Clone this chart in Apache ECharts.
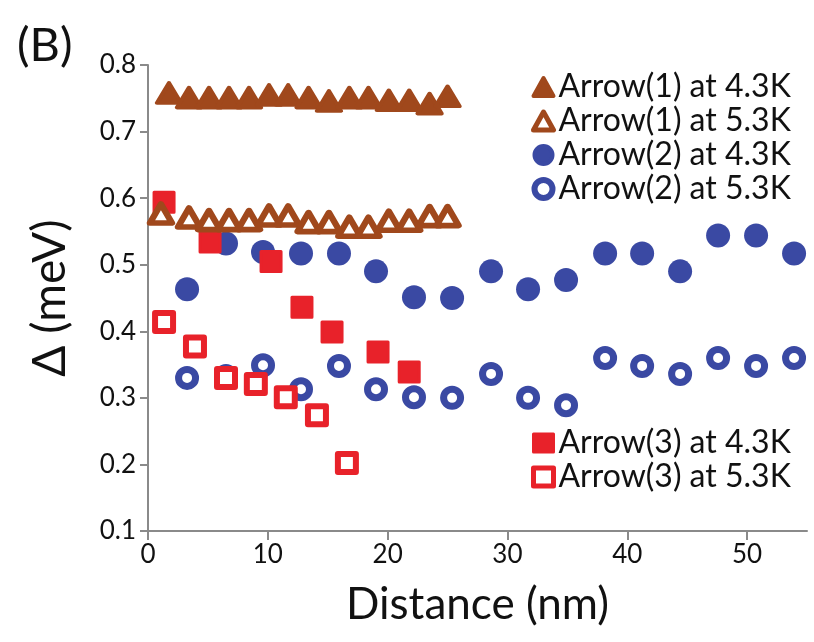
<!DOCTYPE html>
<html>
<head>
<meta charset="utf-8">
<script src="https://cdn.jsdelivr.net/npm/echarts@6/dist/echarts.min.js"></script>
<style>
html,body{margin:0;padding:0;background:#fff;}
#chart{width:814px;height:642px;}
</style>
</head>
<body>
<div id="chart"></div>
<script>
// ---- data ----
const seriesNames = ['Arrow(1) at 4.3K','Arrow(1) at 5.3K','Arrow(2) at 4.3K','Arrow(2) at 5.3K','Arrow(3) at 4.3K','Arrow(3) at 5.3K'];

const a1HotX = [1.75,3.42,5.09,6.76,8.43,10.1,11.7,13.4,15.1,16.8,18.4,20.1,21.8,23.5,25.0];
const a1HotY = [0.758,0.751,0.751,0.751,0.751,0.755,0.755,0.751,0.746,0.751,0.751,0.747,0.747,0.742,0.753];

const a1WarmX = [1.08,3.42,5.09,6.76,8.43,10.1,11.7,13.4,15.1,16.8,18.4,20.1,21.8,23.5,25.0];
const a1WarmY = [0.577,0.571,0.567,0.567,0.567,0.574,0.574,0.564,0.564,0.557,0.557,0.566,0.566,0.573,0.573];

const a2X = [3.26,6.51,9.60,12.77,15.94,19.03,22.2,25.38,28.63,31.72,34.89,38.15,41.24,44.41,47.58,50.75,53.92];
const a2HotY = [0.463,0.532,0.519,0.517,0.517,0.490,0.451,0.450,0.490,0.463,0.477,0.517,0.517,0.490,0.544,0.544,0.517];
const a2WarmY = [0.330,0.333,0.349,0.313,0.348,0.313,0.301,0.300,0.336,0.300,0.289,0.360,0.348,0.336,0.360,0.348,0.360];

const a3HotX = [1.34,5.18,10.27,12.85,15.36,19.2,21.8];
const a3HotY = [0.594,0.534,0.505,0.436,0.399,0.369,0.339];

const a3WarmX = [1.34,3.92,6.51,9.0,11.5,14.1,16.6];
const a3WarmY = [0.414,0.377,0.330,0.321,0.301,0.274,0.202];

const xTicks = [0,10,20,30,40,50];
const yTicks = [0.1,0.2,0.3,0.4,0.5,0.6,0.7,0.8];

// ---- styling ----
const BROWN = '#A0481C';
const BLUE = '#3A49A3';
const RED = '#E8222A';
const FONT = 'Lato';

const pairs = (xs, ys) => xs.map((x, i) => [x, ys[i]]);

const chart = echarts.init(document.getElementById('chart'), null, {renderer: 'canvas'});

const legendText = {fontFamily: FONT, fontSize: 32, color: '#111', lineHeight: 29};

chart.setOption({
  animation: false,
  backgroundColor: '#fff',
  title: {
    text: '(B)', left: 12, top: 17,
    textStyle: {fontFamily: FONT, fontSize: 47, fontWeight: 'normal', color: '#111'}
  },
  grid: {left: 148, right: 7, top: 65, bottom: 111, containLabel: false},
  xAxis: {
    type: 'value', min: 0, max: 55,
    name: 'Distance (nm)', nameLocation: 'middle', nameGap: 52,
    nameTextStyle: {fontFamily: FONT, fontSize: 44, color: '#111'},
    axisLine: {show: true, onZero: false, lineStyle: {color: '#8a8a8a', width: 2}},
    axisTick: {show: true, inside: false, length: 9, lineStyle: {color: '#8a8a8a', width: 2}, customValues: xTicks},
    axisLabel: {fontFamily: FONT, fontSize: 26, color: '#111', margin: 11, customValues: xTicks},
    splitLine: {show: false}
  },
  yAxis: {
    type: 'value', min: 0.1, max: 0.8, interval: 0.1,
    name: 'Δ (meV)', nameLocation: 'middle', nameGap: 75, nameRotate: 90,
    nameTextStyle: {fontFamily: FONT, fontSize: 46, color: '#111'},
    axisLine: {show: true, lineStyle: {color: '#8a8a8a', width: 2}},
    axisTick: {show: true, inside: false, length: 8, lineStyle: {color: '#8a8a8a', width: 2}, customValues: yTicks},
    axisLabel: {fontFamily: FONT, fontSize: 26, color: '#111', margin: 12, customValues: yTicks,
      formatter: v => Number(v).toFixed(1)},
    splitLine: {show: false}
  },
  legend: [
    {
      orient: 'vertical', left: 526, top: 66, itemGap: 2,
      itemWidth: 20, itemHeight: 18, itemTextGap: 15,
      textStyle: legendText, selectedMode: false,
      data: [
        {name: seriesNames[0], icon: 'triangle', itemStyle: {color: BROWN, borderColor: BROWN, borderWidth: 4, borderJoin: 'round'}},
        {name: seriesNames[1], icon: 'triangle', itemStyle: {color: '#fff', borderColor: BROWN, borderWidth: 5, borderJoin: 'round'}},
        {name: seriesNames[2], icon: 'circle', itemStyle: {color: BLUE, borderColor: BLUE, borderWidth: 4}},
        {name: seriesNames[3], icon: 'circle', itemStyle: {color: '#fff', borderColor: BLUE, borderWidth: 6}}
      ]
    },
    {
      orient: 'vertical', left: 526, top: 422, itemGap: 2,
      itemWidth: 20, itemHeight: 18, itemTextGap: 15,
      textStyle: legendText, selectedMode: false,
      data: [
        {name: seriesNames[4], icon: 'rect', itemStyle: {color: RED, borderColor: RED, borderWidth: 3, borderJoin: 'round'}},
        {name: seriesNames[5], icon: 'rect', itemStyle: {color: '#fff', borderColor: RED, borderWidth: 5, borderJoin: 'round'}}
      ]
    }
  ],
  series: [
    {name: seriesNames[0], type: 'scatter', z: 5, symbol: 'triangle', symbolSize: [24, 20],
      itemStyle: {color: BROWN, borderColor: BROWN, borderWidth: 4, borderJoin: 'round', opacity: 1},
      data: pairs(a1HotX, a1HotY)},
    {name: seriesNames[1], type: 'scatter', z: 5, symbol: 'triangle', symbolSize: [22, 19],
      itemStyle: {color: '#fff', borderColor: BROWN, borderWidth: 6, borderJoin: 'round', opacity: 1},
      data: pairs(a1WarmX, a1WarmY)},
    {name: seriesNames[2], type: 'scatter', z: 2, symbol: 'circle', symbolSize: 24,
      itemStyle: {color: BLUE, opacity: 1},
      data: pairs(a2X, a2HotY)},
    {name: seriesNames[3], type: 'scatter', z: 2, symbol: 'circle', symbolSize: 17,
      itemStyle: {color: '#fff', borderColor: BLUE, borderWidth: 7, opacity: 1},
      data: pairs(a2X, a2WarmY)},
    {name: seriesNames[4], type: 'scatter', z: 3, symbol: 'rect', symbolSize: 20,
      itemStyle: {color: RED, borderColor: RED, borderWidth: 3, borderJoin: 'round', opacity: 1},
      data: pairs(a3HotX, a3HotY)},
    {name: seriesNames[5], type: 'scatter', z: 3, symbol: 'rect', symbolSize: 18,
      itemStyle: {color: '#fff', borderColor: RED, borderWidth: 6, borderJoin: 'round', opacity: 1},
      data: pairs(a3WarmX, a3WarmY)}
  ]
});
</script>
</body>
</html>
